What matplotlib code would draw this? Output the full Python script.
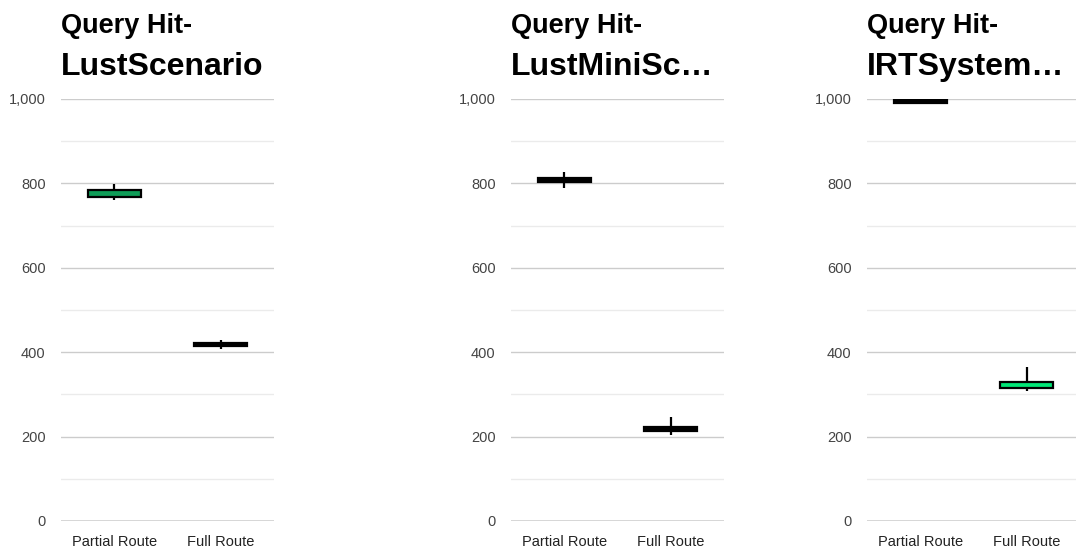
import matplotlib
matplotlib.use("Agg")
import matplotlib.pyplot as plt
from matplotlib.ticker import FuncFormatter, MultipleLocator

plt.rcParams['font.family'] = ['Liberation Sans', 'DejaVu Sans']

categories = ["Partial Route", "Full Route"]
title_line1 = ["Query Hit-", "Query Hit-", "Query Hit-"]
title_line2 = ["LustScenario", "LustMiniSc\u2026", "IRTSystem\u2026"]

# low, box bottom, box top, high per chart
low_1 = [761, 408]
box_lo_1 = [768, 415]
box_hi_1 = [784, 422]
high_1 = [798, 429]

low_2 = [789, 204]
box_lo_2 = [803, 213]
box_hi_2 = [813, 223]
high_2 = [827, 246]

low_3 = [991, 308]
box_lo_3 = [991, 315]
box_hi_3 = [1000, 329]
high_3 = [1000, 365]

fills_1 = ["#0f9d58", "#000000"]
fills_2 = ["#000000", "#000000"]
fills_3 = ["#000000", "#00e676"]

charts = [
    (title_line1[0], title_line2[0], low_1, box_lo_1, box_hi_1, high_1, fills_1),
    (title_line1[1], title_line2[1], low_2, box_lo_2, box_hi_2, high_2, fills_2),
    (title_line1[2], title_line2[2], low_3, box_lo_3, box_hi_3, high_3, fills_3),
]

W, H = 1076, 550
fig = plt.figure(figsize=(W / 100, H / 100), dpi=100)

lefts = [61, 511, 867]
pw = 213
ptop, pbot = 99, 521

for (t1, t2, lo, blo, bhi, hi, fills), lx in zip(charts, lefts):
    ax = fig.add_axes([lx / W, (H - pbot) / H, pw / W, (pbot - ptop) / H])
    ax.set_xlim(-0.5, 1.5)
    ax.set_ylim(0, 1000)
    for v in range(100, 1001, 100):
        ax.axhline(v, color="#cccccc" if v % 200 == 0 else "#ebebeb", lw=1, zorder=0)
    ax.axhline(0, color="#333333", lw=1, zorder=1)
    x = list(range(len(categories)))
    ax.vlines(x, lo, hi, color="black", lw=1.6, zorder=2)
    heights = [b - a for a, b in zip(blo, bhi)]
    ax.bar(x, heights, bottom=blo, width=0.5, color=fills, edgecolor="black",
           linewidth=1.6, zorder=3)
    ax.yaxis.set_major_locator(MultipleLocator(200))
    ax.yaxis.set_major_formatter(FuncFormatter(lambda v, p: f"{int(v):,}"))
    ax.set_xticks(x)
    ax.set_xticklabels(categories)
    ax.tick_params(axis="y", length=0, pad=11, labelsize=10.5, labelcolor="#444444")
    ax.tick_params(axis="x", length=0, pad=10, labelsize=10.5, labelcolor="#222222")
    for s in ax.spines.values():
        s.set_visible(False)
    ax.grid(False)
    fig.text(lx / W, 1 - 33 / H, t1, ha="left", va="baseline", fontsize=19.5,
             fontweight="bold", color="#000000")
    fig.text(lx / W, 1 - 75 / H, t2, ha="left", va="baseline", fontsize=23,
             fontweight="bold", color="#000000")

fig.savefig("out.png", dpi=100)
